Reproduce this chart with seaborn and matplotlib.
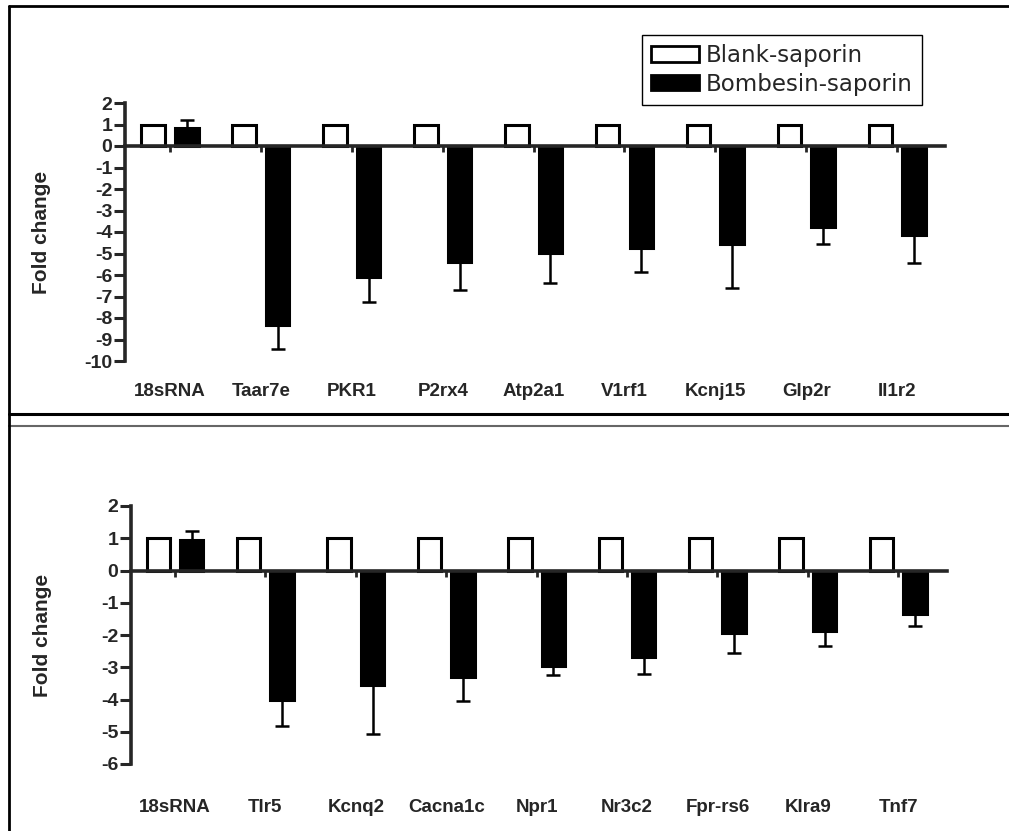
import numpy as np
import pandas as pd
import matplotlib
matplotlib.use('Agg')
import matplotlib.pyplot as plt
import matplotlib.transforms as mtransforms
from matplotlib.lines import Line2D
from matplotlib.patches import Patch
import seaborn as sns

# top panel
genes_top = ['18sRNA', 'Taar7e', 'PKR1', 'P2rx4', 'Atp2a1', 'V1rf1', 'Kcnj15', 'Glp2r', 'Il1r2']
blank_top = [1, 1, 1, 1, 1, 1, 1, 1, 1]
bomb_top = [0.83, -8.34, -6.09, -5.39, -4.97, -4.73, -4.57, -3.77, -4.14]
bomb_top_err = [0.37, 1.12, 1.18, 1.29, 1.39, 1.11, 2.02, 0.77, 1.28]

# bottom panel
genes_bot = ['18sRNA', 'Tlr5', 'Kcnq2', 'Cacna1c', 'Npr1', 'Nr3c2', 'Fpr-rs6', 'Klra9', 'Tnf7']
blank_bot = [1, 1, 1, 1, 1, 1, 1, 1, 1]
bomb_bot = [0.95, -4.0, -3.55, -3.29, -2.96, -2.69, -1.95, -1.88, -1.35]
bomb_bot_err = [0.29, 0.83, 1.52, 0.76, 0.29, 0.52, 0.62, 0.46, 0.38]

groups = ['Blank-saporin', 'Bombesin-saporin']

sns.set_style('white')
plt.rcParams['font.family'] = ['Liberation Sans', 'DejaVu Sans']

W, H = 1009, 831
fig = plt.figure(figsize=(W / 100, H / 100), dpi=100)


def px_axes(left, right, top, bottom):
    return fig.add_axes([left / W, 1 - bottom / H, (right - left) / W, (bottom - top) / H])


def draw_panel(ax, genes, blank, bomb, err, ylim, xlim, label_y, ylab_x):
    df = pd.DataFrame({
        'gene': genes * 2,
        'fold': blank + bomb,
        'group': [groups[0]] * len(genes) + [groups[1]] * len(genes),
    })
    sns.barplot(data=df, x='gene', y='fold', hue='group', order=genes, hue_order=groups,
                palette={groups[0]: 'white', groups[1]: 'black'}, edgecolor='black',
                linewidth=2.2, width=0.74, gap=0.3, errorbar=None, legend=False, ax=ax)

    # one-sided error bars on the bombesin bars
    bars = ax.patches[len(genes):2 * len(genes)]
    for p, v, e in zip(bars, bomb, err):
        xc = p.get_x() + p.get_width() / 2
        yerr = [[e], [0]] if v < 0 else [[0], [e]]
        ax.errorbar([xc], [v], yerr=yerr, fmt='none', ecolor='black', elinewidth=1.8,
                    capsize=5, capthick=1.8, zorder=3)

    ax.set_ylim(*ylim)
    ax.set_xlim(*xlim)
    ax.set_yticks(range(ylim[0], ylim[1] + 1))
    ax.set_yticklabels([str(t) for t in range(ylim[0], ylim[1] + 1)],
                       fontweight='bold', fontsize=14)
    ax.set_xticks(range(len(genes)))
    ax.set_xticklabels([])
    ax.set_xlabel('')
    ax.set_ylabel('Fold change', fontweight='bold', fontsize=15)
    ax.yaxis.set_label_coords(ylab_x, 0.5)

    for s in ['top', 'right']:
        ax.spines[s].set_visible(False)
    ax.spines['left'].set_linewidth(2.6)
    ax.spines['bottom'].set_linewidth(2.6)
    ax.spines['bottom'].set_position(('data', 0))
    ax.spines['bottom'].set_zorder(4)
    ax.tick_params(axis='y', direction='out', length=8, width=2.2, pad=1, left=True)
    ax.tick_params(axis='x', direction='out', length=4, width=2, bottom=True)

    trans = mtransforms.blended_transform_factory(ax.transData, ax.transAxes)
    for i, g in enumerate(genes):
        ax.text(i, label_y, g, transform=trans, ha='center', va='center',
                fontsize=13.5, fontweight='bold')


ax1 = px_axes(125, 945, 103, 361)
draw_panel(ax1, genes_top, blank_top, bomb_top, bomb_top_err, (-10, 2),
           (-0.495, 8.526), -0.12, -0.09)

ax2 = px_axes(131, 947, 506, 764)
draw_panel(ax2, genes_bot, blank_bot, bomb_bot, bomb_bot_err, (-6, 2),
           (-0.487, 8.54), -0.167, -0.097)

handles = [Patch(facecolor='white', edgecolor='black', linewidth=2),
           Patch(facecolor='black', edgecolor='black', linewidth=2)]
leg = fig.legend(handles, groups, loc='upper left',
                 bbox_to_anchor=(642 / W, 1 - 35 / H), bbox_transform=fig.transFigure,
                 borderaxespad=0, fancybox=False, edgecolor='black', framealpha=1,
                 handlelength=2.1, handleheight=0.65, handletextpad=0.3,
                 labelspacing=0.25, borderpad=0.4,
                 prop={'family': 'DejaVu Sans', 'size': 16.5})
leg.get_frame().set_linewidth(1.0)

# page frame lines
def hline(y, lw, color='black'):
    fig.add_artist(Line2D([9 / W, 1], [1 - y / H, 1 - y / H], transform=fig.transFigure,
                          color=color, linewidth=lw))

hline(6, 2.0)
hline(414, 2.2)
hline(426, 1.5, '#666666')
fig.add_artist(Line2D([9 / W, 9 / W], [0, 1 - 6 / H], transform=fig.transFigure,
                      color='black', linewidth=2.0))

fig.savefig('out.png', dpi=100)
